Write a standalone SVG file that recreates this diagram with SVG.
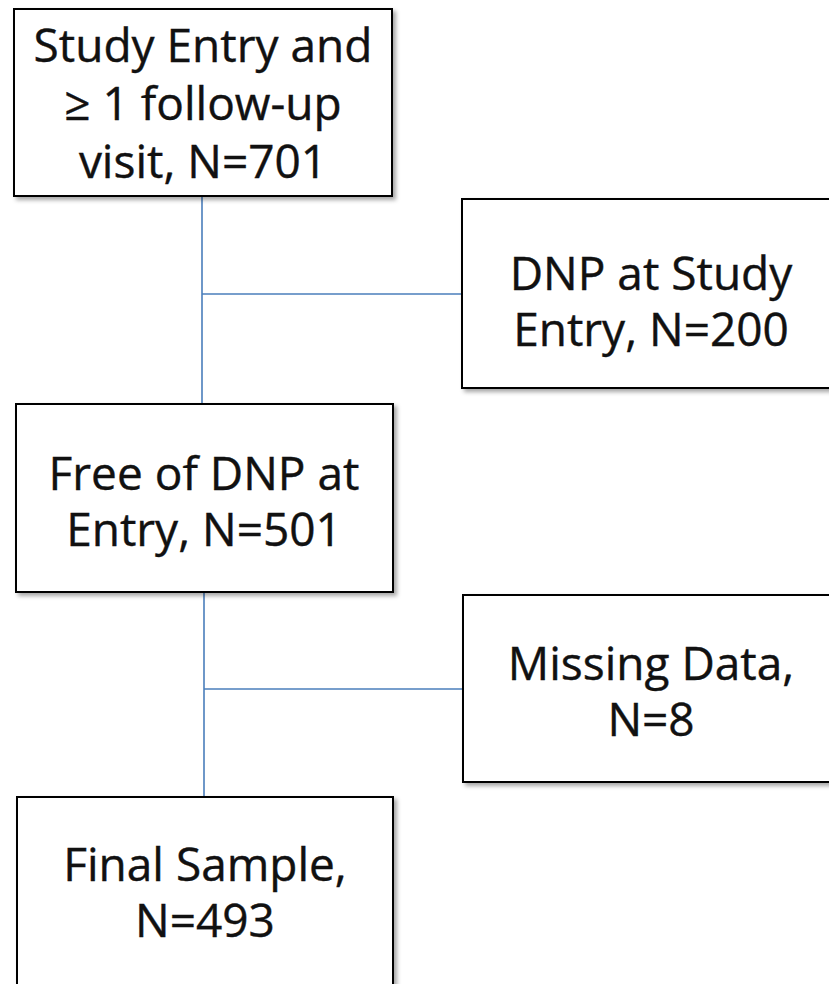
<svg xmlns="http://www.w3.org/2000/svg" width="829" height="984" viewBox="0 0 829 984">
<defs>
<filter id="sh" x="-10%" y="-10%" width="130%" height="130%">
<feDropShadow dx="3" dy="3" stdDeviation="2" flood-color="#000" flood-opacity="0.35"/>
</filter>
</defs>
<style>
.box{fill:#fff;stroke:#000;stroke-width:2;filter:url(#sh)}
.t{font-family:"Open Sans","Noto Sans",sans-serif;font-size:46px;fill:#111;stroke:#111;stroke-width:0.4;text-anchor:middle}
.c{stroke:#4a7ebb;stroke-width:1.6;fill:none}
</style>
<rect width="829" height="984" fill="#fff"/>
<g id="connectors">
<line class="c" x1="202" y1="196" x2="202" y2="404"/>
<line class="c" x1="202" y1="294" x2="462" y2="294"/>
<line class="c" x1="204" y1="592" x2="204" y2="797"/>
<line class="c" x1="204" y1="689" x2="463" y2="689"/>
</g>
<g id="n1">
<rect class="box" x="14" y="9" width="378" height="187"/>
<text class="t" x="203" y="62">Study Entry and</text>
<text class="t" x="203" y="120">≥ 1 follow-up</text>
<text class="t" x="203" y="178">visit, N=701</text>
</g>
<g id="n2">
<rect class="box" x="462" y="199" width="380" height="189"/>
<text class="t" x="651" y="290">DNP at Study</text>
<text class="t" x="651" y="346">Entry, N=200</text>
</g>
<g id="n3">
<rect class="box" x="16" y="404" width="377" height="188"/>
<text class="t" x="204" y="490">Free of DNP at</text>
<text class="t" x="204" y="546">Entry, N=501</text>
</g>
<g id="n4">
<rect class="box" x="463" y="595" width="380" height="187"/>
<text class="t" x="651" y="680">Missing Data,</text>
<text class="t" x="651" y="736">N=8</text>
</g>
<g id="n5">
<rect class="box" x="17" y="797" width="376" height="200"/>
<text class="t" x="205" y="881">Final Sample,</text>
<text class="t" x="205" y="937">N=493</text>
</g>
</svg>
